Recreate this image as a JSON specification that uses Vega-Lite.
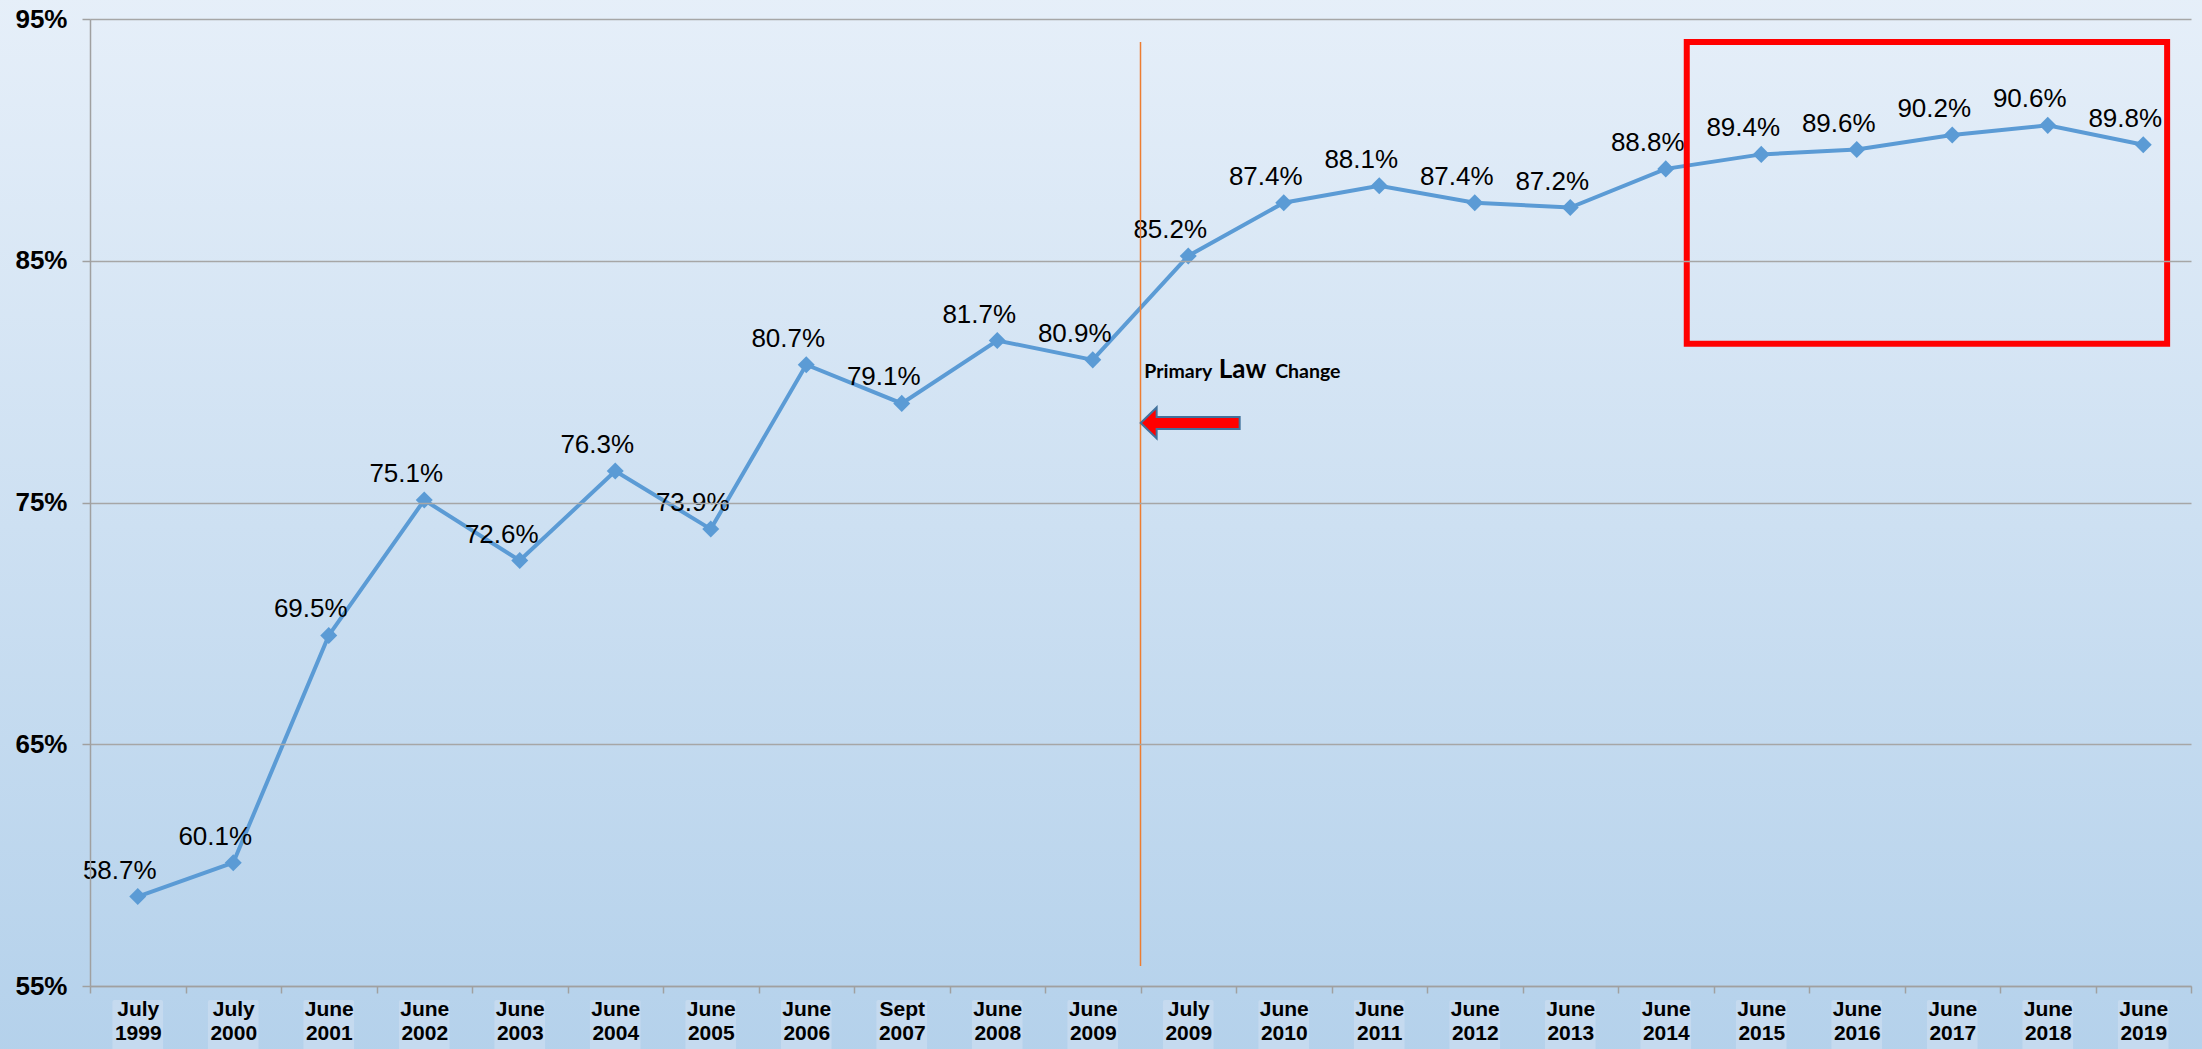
{
  "$schema": "https://vega.github.io/schema/vega-lite/v6.json",
  "width": 2101,
  "height": 967,
  "autosize": {"type": "none"},
  "padding": {"left": 90, "top": 19, "right": 11, "bottom": 63},
  "background": "#cfe1f2",
  "config": {"view": {"stroke": null}, "font": "Liberation Sans"},
  "data": {
    "values": [
      {"cat": "July 1999", "v": 0.587},
      {"cat": "July 2000", "v": 0.601},
      {"cat": "June 2001", "v": 0.695},
      {"cat": "June 2002", "v": 0.751},
      {"cat": "June 2003", "v": 0.726},
      {"cat": "June 2004", "v": 0.763},
      {"cat": "June 2005", "v": 0.739},
      {"cat": "June 2006", "v": 0.807},
      {"cat": "Sept 2007", "v": 0.791},
      {"cat": "June 2008", "v": 0.817},
      {"cat": "June 2009", "v": 0.809},
      {"cat": "July 2009", "v": 0.852},
      {"cat": "June 2010", "v": 0.874},
      {"cat": "June 2011", "v": 0.881},
      {"cat": "June 2012", "v": 0.874},
      {"cat": "June 2013", "v": 0.872},
      {"cat": "June 2014", "v": 0.888},
      {"cat": "June 2015", "v": 0.894},
      {"cat": "June 2016", "v": 0.896},
      {"cat": "June 2017", "v": 0.902},
      {"cat": "June 2018", "v": 0.906},
      {"cat": "June 2019", "v": 0.898}
    ]
  },
  "resolve": {"scale": {"x": "independent"}},
  "layer": [
    {
      "data": {"values": [{}]},
      "mark": {"type": "rect", "color": {"gradient": "linear", "x1": 0, "y1": 0, "x2": 0, "y2": 1, "stops": [{"offset": 0, "color": "#e6eff9"}, {"offset": 1, "color": "#b4d1eb"}]}},
      "encoding": {
        "x": {"datum": -1, "type": "quantitative", "scale": {"domain": [0, 22]}, "axis": null},
        "x2": {"datum": 23},
        "y": {"datum": 0.96, "type": "quantitative", "title": null, "scale": {"domain": [0.55, 0.95], "nice": false, "zero": false}},
        "y2": {"datum": 0.52}
      }
    },
    {
      "encoding": {
        "x": {
          "field": "cat", "type": "nominal", "sort": null,
          "scale": {"paddingInner": 0, "paddingOuter": 0},
          "axis": {
            "title": null, "labelAngle": 0, "labelExpr": "split(datum.label, ' ')",
            "labelFontSize": 21, "labelFontWeight": "bold", "labelColor": "#000000",
            "labelLineHeight": 24, "labelPadding": 5, "tickBand": "extent", "tickSize": 7,
            "tickColor": "#a0a0a0", "tickWidth": 1.5, "domainColor": "#a0a0a0", "domainWidth": 1.5,
            "grid": false, "zindex": 1
          }
        },
        "y": {
          "field": "v", "type": "quantitative", "title": null,
          "scale": {"domain": [0.55, 0.95], "nice": false, "zero": false},
          "axis": {
            "title": null, "values": [0.55, 0.65, 0.75, 0.85, 0.95], "format": ".0%",
            "labelFontSize": 26, "labelFontWeight": "bold", "labelColor": "#000000",
            "labelPadding": 15, "tickSize": 8, "tickColor": "#a0a0a0", "tickWidth": 1.5,
            "domainColor": "#a0a0a0", "domainWidth": 1.5,
            "grid": true, "gridColor": "#a6a6a6", "gridWidth": 1.5, "zindex": 1
          }
        }
      },
      "layer": [
        {
          "mark": {"type": "bar", "width": {"band": 0.53}, "color": "#c5daef", "cornerRadius": 2},
          "encoding": {
            "y": {"datum": 0.5442, "type": "quantitative", "title": null, "scale": {"domain": [0.55, 0.95], "nice": false, "zero": false}},
            "y2": {"datum": 0.522}
          }
        },
        {"mark": {"type": "line", "color": "#5b9bd5", "strokeWidth": 4}},
        {"mark": {"type": "point", "shape": "diamond", "filled": true, "size": 290, "color": "#5b9bd5", "opacity": 1}},
        {
          "mark": {"type": "text", "dx": -18, "dy": -26, "fontSize": 26, "baseline": "middle", "color": "#000000"},
          "encoding": {"text": {"field": "v", "type": "quantitative", "format": ".1%"}}
        }
      ]
    },
    {
      "data": {"values": [{}]},
      "mark": {"type": "rule", "color": "#ed7d31", "strokeWidth": 1.5},
      "encoding": {
        "x": {"datum": 11, "type": "quantitative", "scale": {"domain": [0, 22]}, "axis": null},
        "y": {"datum": 0.9405, "type": "quantitative", "title": null, "scale": {"domain": [0.55, 0.95], "nice": false, "zero": false}},
        "y2": {"datum": 0.5583}
      }
    },
    {
      "data": {"values": [{}]},
      "mark": {"type": "rect", "fill": null, "fillOpacity": 0, "stroke": "#ff0000", "strokeWidth": 6},
      "encoding": {
        "x": {"datum": 16.72, "type": "quantitative", "scale": {"domain": [0, 22]}, "axis": null},
        "x2": {"datum": 21.75},
        "y": {"datum": 0.9405, "type": "quantitative", "title": null, "scale": {"domain": [0.55, 0.95], "nice": false, "zero": false}},
        "y2": {"datum": 0.8157}
      }
    },
    {
      "data": {"values": [{}]},
      "mark": {"type": "point", "shape": "M -1 0 L -0.677 -0.313 L -0.677 -0.121 L 1 -0.121 L 1 0.121 L -0.677 0.121 L -0.677 0.313 Z", "size": 9801, "filled": true, "fill": "#ff0000", "stroke": "#41719c", "strokeWidth": 2, "opacity": 1, "fillOpacity": 1},
      "encoding": {
        "x": {"datum": 11.52, "type": "quantitative", "scale": {"domain": [0, 22]}, "axis": null},
        "y": {"datum": 0.7829, "type": "quantitative", "title": null, "scale": {"domain": [0.55, 0.95], "nice": false, "zero": false}}
      }
    },
    {
      "data": {"values": [{}]},
      "mark": {"type": "text", "text": "Primary", "font": "Lato", "fontWeight": "bold", "fontSize": 19.5, "align": "left", "baseline": "alphabetic", "color": "#000000"},
      "encoding": {
        "x": {"datum": 11.04, "type": "quantitative", "scale": {"domain": [0, 22]}, "axis": null},
        "y": {"datum": 0.8015, "type": "quantitative", "title": null, "scale": {"domain": [0.55, 0.95], "nice": false, "zero": false}}
      }
    },
    {
      "data": {"values": [{}]},
      "mark": {"type": "text", "text": "Law", "font": "Lato", "fontWeight": "bold", "fontSize": 26, "align": "left", "baseline": "alphabetic", "color": "#000000"},
      "encoding": {
        "x": {"datum": 11.82, "type": "quantitative", "scale": {"domain": [0, 22]}, "axis": null},
        "y": {"datum": 0.8015, "type": "quantitative", "title": null, "scale": {"domain": [0.55, 0.95], "nice": false, "zero": false}}
      }
    },
    {
      "data": {"values": [{}]},
      "mark": {"type": "text", "text": "Change", "font": "Lato", "fontWeight": "bold", "fontSize": 19.5, "align": "left", "baseline": "alphabetic", "color": "#000000"},
      "encoding": {
        "x": {"datum": 12.41, "type": "quantitative", "scale": {"domain": [0, 22]}, "axis": null},
        "y": {"datum": 0.8015, "type": "quantitative", "title": null, "scale": {"domain": [0.55, 0.95], "nice": false, "zero": false}}
      }
    }
  ]
}
